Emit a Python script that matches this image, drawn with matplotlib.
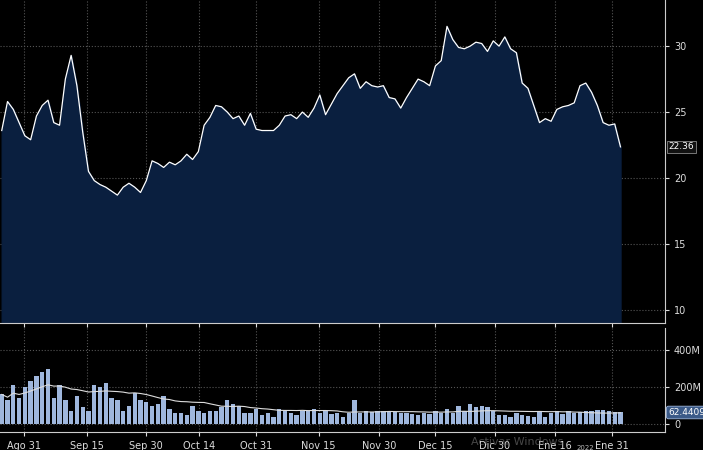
import matplotlib
matplotlib.use("Agg")
import matplotlib.pyplot as plt
import numpy as np
import pandas as pd

price = [23.6,25.8,25.2,24.2,23.2,22.9,24.7,25.5,25.9,24.2,24.0,27.5,29.3,27.0,23.5,20.5,19.8,19.5,19.3,19.0,
         18.7,19.3,19.6,19.3,18.9,19.8,21.3,21.1,20.8,21.2,21.0,21.3,21.8,21.4,22.0,24.0,24.6,25.5,25.4,25.0,
         24.5,24.7,24.0,24.9,23.7,23.6,23.6,23.6,24.0,24.7,24.8,24.5,25.0,24.6,25.3,26.3,24.8,25.6,26.4,27.0,
         27.6,27.9,26.8,27.3,27.0,26.9,27.0,26.1,26.0,25.3,26.1,26.8,27.5,27.3,27.0,28.5,28.9,31.5,30.5,29.9,
         29.8,30.0,30.3,30.2,29.6,30.4,30.0,30.7,29.8,29.5,27.2,26.8,25.5,24.2,24.5,24.3,25.2,25.4,25.5,25.7,
         27.0,27.2,26.5,25.5,24.2,24.0,24.1,22.36]
volume = [160,130,210,140,200,230,260,280,300,140,210,130,70,150,90,70,210,200,220,140,
          130,70,100,170,130,120,100,110,150,80,60,60,50,100,70,60,70,70,90,130,
          110,100,60,60,80,50,60,40,80,70,60,50,70,70,80,60,70,55,60,40,
          60,130,60,70,65,70,70,70,65,60,60,55,50,60,55,70,60,80,60,100,
          70,110,90,100,90,70,50,50,40,60,50,45,40,70,40,60,70,55,70,60,
          65,70,70,75,75,70,65,62.44]
tick_pos = [3.8,14.7,25,34.1,44,54.8,65.2,75,85.3,95.7,105.5]
tick_labels = ["Ago 31","Sep 15","Sep 30","Oct 14","Oct 31","Nov 15","Nov 30","Dec 15","Dic 30","Ene 16","Ene 31"]

x = np.arange(len(price))
ma = pd.Series(volume).rolling(20, min_periods=1).mean()

fig = plt.figure(figsize=(7.03,4.5), dpi=100, facecolor="black")
ax1 = fig.add_axes([0, 127/450, 665/703, 323/450], facecolor="black")
ax2 = fig.add_axes([0, 18/450, 665/703, 104/450], facecolor="black")
xl = (-0.3, 114.7)
for ax in (ax1, ax2):
    ax.set_xlim(*xl)
    ax.yaxis.tick_right()
    for s in ax.spines.values(): s.set_visible(False)
    ax.spines['right'].set_visible(True); ax.spines['right'].set_color("#cccccc")
    ax.spines['bottom'].set_visible(True); ax.spines['bottom'].set_color("#cccccc")
    ax.tick_params(colors="#dddddd", labelsize=7, length=3)
    ax.set_xticks(tick_pos)
    ax.grid(True, color="#555555", linestyle=":", linewidth=0.8)

ax1.fill_between(x, 0, price, color="#0a1f3f", zorder=2)
ax1.plot(x, price, color="white", lw=0.9, zorder=3)
ax1.set_ylim(9.0, 33.5)
ax1.set_yticks([10,15,20,25,30])
ax1.set_xticklabels([])
ax1.text(1.005, (22.36-9)/24.5, "22.36", transform=ax1.transAxes, color="white", fontsize=6.5,
         va="center", ha="left", bbox=dict(boxstyle="square,pad=0.2", fc="#111111", ec="#888888", lw=0.6))

ax2.bar(x, volume, width=0.75, color="#9fb7dd", zorder=2)
ax2.plot(x, ma, color="#dddddd", lw=0.8, zorder=3)
ax2.set_ylim(-43, 519)
ax2.set_yticks([0,200,400])
ax2.set_yticklabels(["0","200M","400M"])
ax2.set_xticklabels(tick_labels)
ax2.text(1.005, (62.44+43)/562, "62.4409", transform=ax2.transAxes, color="white", fontsize=6.5,
         va="center", ha="left", bbox=dict(boxstyle="round,pad=0.2", fc="#3b5a88", ec="#9fb7dd", lw=0.6))
fig.text(585/703, 1-448/450, "2022", color="#bbbbbb", fontsize=5, ha="center", va="center")
fig.text(517/703, 1-442/450, "Activar Windows", color="#777777", fontsize=8, ha="center", va="center", alpha=0.6)
fig.savefig("out.png", dpi=100, facecolor="black")
